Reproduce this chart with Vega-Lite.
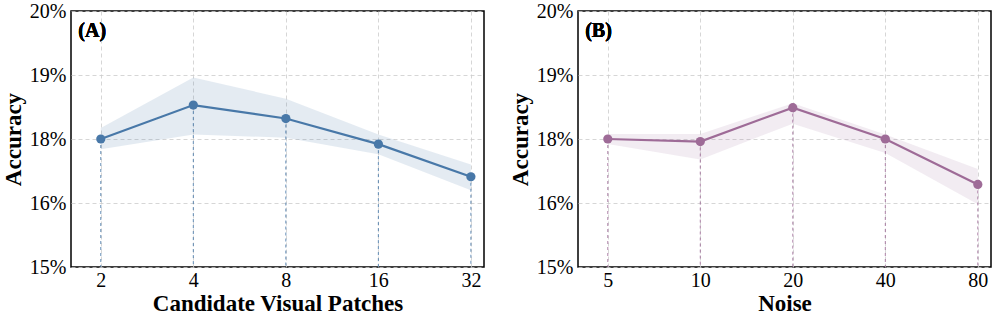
{
  "$schema": "https://vega.github.io/schema/vega-lite/v6.json",
  "background": "white",
  "padding": {"left": 1, "top": 0, "right": 0, "bottom": 0},
  "datasets": {
    "a": [
      {"patches": 2, "acc": 18.0, "lo": 17.84, "hi": 18.17},
      {"patches": 4, "acc": 18.53, "lo": 18.07, "hi": 18.96},
      {"patches": 8, "acc": 18.32, "lo": 18.02, "hi": 18.63},
      {"patches": 16, "acc": 17.92, "lo": 17.76, "hi": 18.07},
      {"patches": 32, "acc": 17.41, "lo": 17.2, "hi": 17.6}
    ],
    "b": [
      {"noise": 5, "acc": 18.0, "lo": 17.92, "hi": 18.08},
      {"noise": 10, "acc": 17.96, "lo": 17.68, "hi": 18.08},
      {"noise": 20, "acc": 18.49, "lo": 18.24, "hi": 18.56},
      {"noise": 40, "acc": 18.0, "lo": 17.78, "hi": 18.07},
      {"noise": 80, "acc": 17.29, "lo": 16.98, "hi": 17.53}
    ]
  },
  "bounds": "flush",
  "spacing": 94,
  "hconcat": [
    {
      "width": 413,
      "height": 256,
      "data": {"name": "a"},
      "encoding": {
        "x": {"field": "patches", "type": "quantitative",
          "scale": {"type": "log", "base": 2, "domain": [1.6, 35.3], "nice": false},
          "axis": {"values": [2, 4, 8, 16, 32], "format": "d", "title": "Candidate Visual Patches"}},
        "y": {"field": "acc", "type": "quantitative",
          "scale": {"domain": [16, 20], "nice": false, "zero": false},
          "axis": {"values": [16, 17, 18, 19, 20], "title": "Accuracy",
            "labelExpr": "datum.value == 16 ? '15%' : datum.value == 17 ? '16%' : datum.value + '%'"}}
      },
      "layer": [
        {"mark": {"type": "area", "color": "#4878a8", "opacity": 0.15},
         "encoding": {"y": {"field": "lo", "type": "quantitative"}, "y2": {"field": "hi"}}},
        {"mark": {"type": "rule", "color": "#4878a8", "strokeDash": [3, 3], "strokeWidth": 1, "opacity": 0.85},
         "encoding": {"y2": {"datum": 16}}},
        {"mark": {"type": "line", "color": "#4878a8", "strokeWidth": 2.2}},
        {"mark": {"type": "point", "filled": true, "color": "#4878a8", "size": 85, "opacity": 1}},
        {"mark": {"type": "text", "text": "(A)", "font": "Liberation Serif", "fontWeight": "bold", "fontSize": 20, "align": "left", "baseline": "middle", "color": "black"},
         "encoding": {"x": {"datum": 1.69}, "y": {"datum": 19.69}}}
      ]
    },
    {
      "width": 413,
      "height": 256,
      "data": {"name": "b"},
      "encoding": {
        "x": {"field": "noise", "type": "quantitative",
          "scale": {"type": "log", "base": 2, "domain": [4.0, 88.3], "nice": false},
          "axis": {"values": [5, 10, 20, 40, 80], "format": "d", "title": "Noise"}},
        "y": {"field": "acc", "type": "quantitative",
          "scale": {"domain": [16, 20], "nice": false, "zero": false},
          "axis": {"values": [16, 17, 18, 19, 20], "title": "Accuracy",
            "labelExpr": "datum.value == 16 ? '15%' : datum.value == 17 ? '16%' : datum.value + '%'"}}
      },
      "layer": [
        {"mark": {"type": "area", "color": "#9e6b97", "opacity": 0.13},
         "encoding": {"y": {"field": "lo", "type": "quantitative"}, "y2": {"field": "hi"}}},
        {"mark": {"type": "rule", "color": "#9e6b97", "strokeDash": [3, 3], "strokeWidth": 1, "opacity": 0.85},
         "encoding": {"y2": {"datum": 16}}},
        {"mark": {"type": "line", "color": "#9e6b97", "strokeWidth": 2.2}},
        {"mark": {"type": "point", "filled": true, "color": "#9e6b97", "size": 85, "opacity": 1}},
        {"mark": {"type": "text", "text": "(B)", "font": "Liberation Serif", "fontWeight": "bold", "fontSize": 20, "align": "left", "baseline": "middle", "color": "black"},
         "encoding": {"x": {"datum": 4.22}, "y": {"datum": 19.69}}}
      ]
    }
  ],
  "config": {
    "font": "Liberation Serif",
    "view": {"stroke": "black", "strokeWidth": 1.5},
    "axis": {
      "labelFont": "Liberation Serif", "labelFontSize": 20, "labelColor": "black",
      "titleFont": "Liberation Serif", "titleFontSize": 23, "titleFontWeight": "bold", "titleColor": "black",
      "ticks": false, "domain": false, "labelPadding": 5,
      "grid": true, "gridColor": "#cccccc", "gridDash": [4, 3], "gridWidth": 0.8
    },
    "axisX": {"titlePadding": 2, "labelPadding": 3},
    "axisY": {"titlePadding": 4}
  }
}
